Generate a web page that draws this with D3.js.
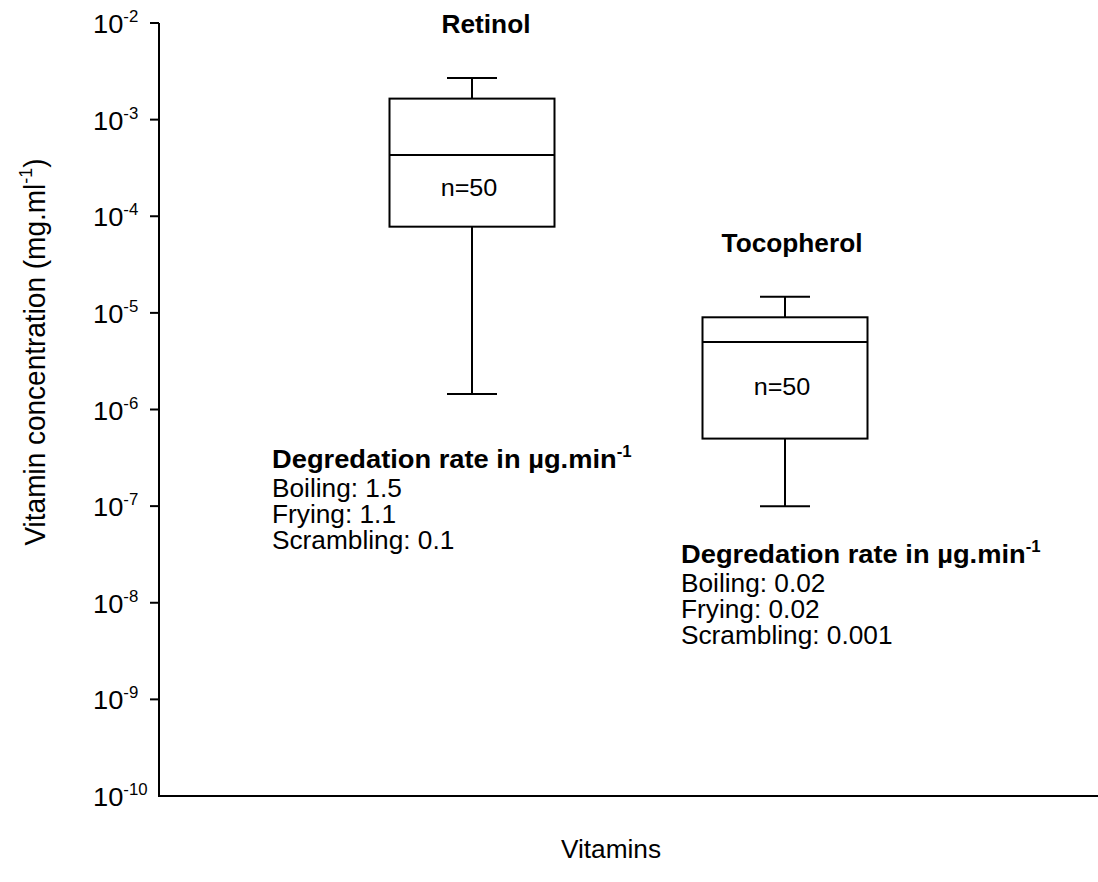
<!DOCTYPE html>
<meta charset="utf-8">
<head>
    <title>Vitamin concentration</title>
    <script type="text/javascript" src="https://cdn.jsdelivr.net/npm/d3@7"></script>
    <style>
        body { margin: 0; background: #fff; }
        text { font-family: "Liberation Sans", Arial, sans-serif; fill: #000; }
    </style>
</head>
<body>
    <div id="chart"></div>
    <script>
        // data
        var vitamins = ["Retinol", "Tocopherol"]
        var whiskerHigh = [2.7e-3, 1.47e-5]
        var q3 = [1.65e-3, 9.0e-6]
        var median = [4.3e-4, 5.0e-6]
        var q1 = [7.8e-5, 5.0e-7]
        var whiskerLow = [1.45e-6, 1.0e-7]
        var counts = [50, 50]
        var tickPowers = [-2, -3, -4, -5, -6, -7, -8, -9, -10]
        var methods = ["Boiling", "Frying", "Scrambling"]
        var rates = [["1.5", "1.1", "0.1"], ["0.02", "0.02", "0.001"]]

        var width = 1098, height = 882
        var plotLeft = 159, plotTop = 23, plotBottom = 796
        var sx = 1.05   // the original's lettering is a bit wider than Arial

        var svg = d3.select("#chart").append("svg")
          .attr("width", width)
          .attr("height", height)

        var y = d3.scaleLog().domain([1e-10, 1e-2]).range([plotBottom, plotTop])
        var x = d3.scalePoint().domain(vitamins).range([plotLeft, width]).padding(1)

        // place a text with a slight horizontal stretch
        function place(sel, fx, fy) {
          return sel.attr("transform", function(d, i){
            var px = typeof fx == "function" ? fx(d, i) : fx
            var py = typeof fy == "function" ? fy(d, i) : fy
            return "translate(" + px + "," + py + ") scale(" + sx + ",1)"
          })
        }

        // axes
        svg.append("line")
          .attr("x1", plotLeft).attr("x2", plotLeft)
          .attr("y1", y(1e-2)).attr("y2", y(1e-10) + 1)
          .attr("stroke", "black").attr("stroke-width", 2)
        svg.append("line")
          .attr("x1", plotLeft - 1).attr("x2", width)
          .attr("y1", y(1e-10)).attr("y2", y(1e-10))
          .attr("stroke", "black").attr("stroke-width", 2)

        var ticks = svg.append("g").selectAll("g")
          .data(tickPowers)
          .enter().append("g")
          .attr("transform", function(d){ return "translate(0," + y(Math.pow(10, d)) + ")" })
        ticks.filter(function(d){ return d != -10 }).append("line")
          .attr("x1", plotLeft - 9).attr("x2", plotLeft)
          .attr("stroke", "black").attr("stroke-width", 2)
        var tl = place(ticks.append("text"), 93, 10)
          .style("font-size", "26px")
        tl.append("tspan").text("10")
        tl.append("tspan").attr("dy", -11).style("font-size", "16px")
          .text(function(d){ return "-" + Math.abs(d) })

        // axis titles
        var yt = svg.append("text")
          .attr("transform", "translate(45,352) rotate(-90) scale(1," + sx + ")")
          .attr("text-anchor", "middle")
          .style("font-size", "28px")
        yt.append("tspan").text("Vitamin concentration (mg.ml")
        yt.append("tspan").attr("dy", -12).style("font-size", "18px").text("-1")
        yt.append("tspan").attr("dy", 12).text(")")

        place(svg.append("text"), 611, 858)
          .attr("text-anchor", "middle")
          .style("font-size", "25px")
          .text("Vitamins")

        // boxes
        var boxW = 165, capW = 50
        var boxes = svg.append("g").selectAll("g")
          .data(vitamins)
          .enter().append("g")

        boxes.append("line")
          .attr("x1", function(d){ return x(d) }).attr("x2", function(d){ return x(d) })
          .attr("y1", function(d, i){ return y(whiskerHigh[i]) })
          .attr("y2", function(d, i){ return y(q3[i]) })
          .attr("stroke", "black").attr("stroke-width", 2)
        boxes.append("line")
          .attr("x1", function(d){ return x(d) }).attr("x2", function(d){ return x(d) })
          .attr("y1", function(d, i){ return y(q1[i]) })
          .attr("y2", function(d, i){ return y(whiskerLow[i]) })
          .attr("stroke", "black").attr("stroke-width", 2)
        boxes.append("line")
          .attr("x1", function(d){ return x(d) - capW / 2 }).attr("x2", function(d){ return x(d) + capW / 2 })
          .attr("y1", function(d, i){ return y(whiskerHigh[i]) })
          .attr("y2", function(d, i){ return y(whiskerHigh[i]) })
          .attr("stroke", "black").attr("stroke-width", 2)
        boxes.append("line")
          .attr("x1", function(d){ return x(d) - capW / 2 }).attr("x2", function(d){ return x(d) + capW / 2 })
          .attr("y1", function(d, i){ return y(whiskerLow[i]) })
          .attr("y2", function(d, i){ return y(whiskerLow[i]) })
          .attr("stroke", "black").attr("stroke-width", 2)
        boxes.append("rect")
          .attr("x", function(d){ return x(d) - boxW / 2 })
          .attr("y", function(d, i){ return y(q3[i]) })
          .attr("width", boxW)
          .attr("height", function(d, i){ return y(q1[i]) - y(q3[i]) })
          .attr("fill", "white").attr("stroke", "black").attr("stroke-width", 2)
        boxes.append("line")
          .attr("x1", function(d){ return x(d) - boxW / 2 }).attr("x2", function(d){ return x(d) + boxW / 2 })
          .attr("y1", function(d, i){ return y(median[i]) })
          .attr("y2", function(d, i){ return y(median[i]) })
          .attr("stroke", "black").attr("stroke-width", 2)
        place(boxes.append("text"),
              function(d){ return x(d) - 3 },
              function(d, i){ return (y(median[i]) + y(q1[i])) / 2 + 5 })
          .attr("text-anchor", "middle")
          .style("font-size", "24px")
          .text(function(d, i){ return "n=" + counts[i] })
        place(boxes.append("text"),
              function(d, i){ return x(d) + (i == 0 ? 14 : 7) },
              function(d, i){ return y(whiskerHigh[i]) - 45 })
          .attr("text-anchor", "middle")
          .style("font-size", "25px").style("font-weight", "bold")
          .text(function(d){ return d })

        // degradation notes
        var notePos = [[272, 468], [681, 563]]
        var notes = svg.append("g").selectAll("g")
          .data(vitamins)
          .enter().append("g")
        var head = place(notes.append("text"),
                         function(d, i){ return notePos[i][0] },
                         function(d, i){ return notePos[i][1] })
          .style("font-size", "26px").style("font-weight", "bold")
        head.append("tspan").text("Degredation rate in µg.min")
        head.append("tspan").attr("dy", -11).style("font-size", "16px").text("-1")
        methods.forEach(function(m, j){
          place(notes.append("text"),
                function(d, i){ return notePos[i][0] },
                function(d, i){ return notePos[i][1] + 29 + j * 26 })
            .style("font-size", "25px")
            .text(function(d, i){ return m + ": " + rates[i][j] })
        })
    </script>
</body>
</html>
